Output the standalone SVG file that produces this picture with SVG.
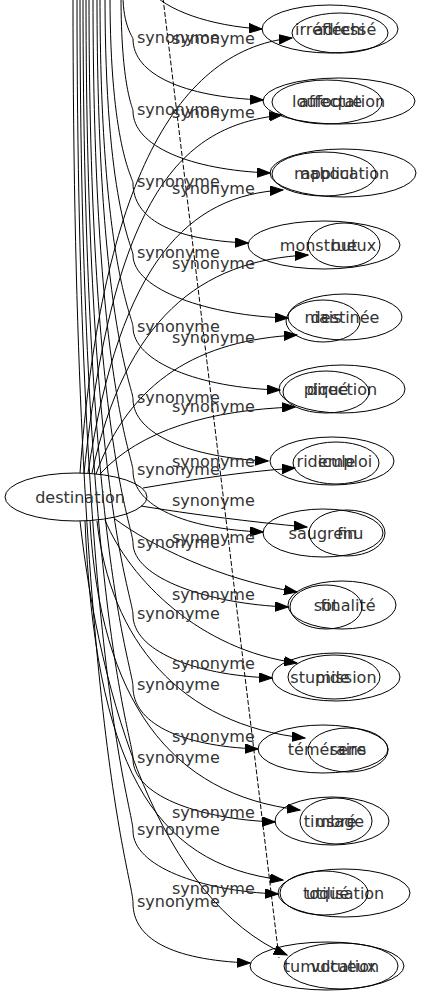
<svg xmlns="http://www.w3.org/2000/svg" width="422" height="995" viewBox="0 0 422 995">
<style>
text{font-family:"DejaVu Sans",sans-serif;font-size:16px;fill:#333}
.n ellipse{fill:none;stroke:#000;stroke-width:1}
.n text{text-anchor:middle}
.e path{fill:none;stroke:#000;stroke-width:1;marker-end:url(#ah)}
.e path.d{stroke-dasharray:5,2;marker-end:none}
</style>
<defs>
<marker id="ah" markerUnits="userSpaceOnUse" markerWidth="14" markerHeight="10" refX="13" refY="5" orient="auto">
<path d="M0,0.3 L13,5 L0,9.7 z" fill="#000" stroke="#000" stroke-width="1"/>
</marker>
</defs>
<rect width="422" height="995" fill="#fff"/>
<g class="e" id="connectors">
<!-- edges from the top bundle -->
<path d="M150,-10 C165,10 210,26 262,29"/>
<path d="M123,-5 C123,26 133,37 133,39 C133,74 183,97 263,100"/>
<path d="M121,-5 C121,88 133,107 133,111 C133,146 190,170 270,173"/>
<path d="M110,-5 C110,146 133,178 133,183 C133,218 170,240 248,243"/>
<path d="M105,-5 C105,203 133,247 133,255 C133,290 210,316 288,318"/>
<path d="M100,-5 C100,261 133,317 133,327 C133,362 200,388 280,390"/>
<path d="M97,-5 C97,318 133,387 133,399 C133,434 190,458 268,461"/>
<path d="M93,-5 C93,376 133,456 133,471 C133,506 185,529 263,532"/>
<path d="M89,-5 C89,434 133,526 133,543 C133,578 208,604 288,607"/>
<path d="M86,-5 C86,492 133,596 133,615 C133,650 192,675 272,678"/>
<path d="M83,-5 C83,549 133,666 133,687 C133,722 178,746 258,749"/>
<path d="M80,-5 C80,607 133,736 133,759 C133,794 195,819 275,822"/>
<path d="M77,-5 C77,664 133,806 133,831 C133,866 200,891 278,894"/>
<path d="M73,-5 C73,722 133,876 133,903 C133,938 170,960 250,963"/>
<!-- edges from destination -->
<path d="M80,473 C100,200 170,50 292,38"/>
<path d="M84,473 C115,180 190,125 282,115"/>
<path d="M88,473 C120,260 190,195 283,190"/>
<path d="M92,473 C125,320 200,260 308,255"/>
<path d="M96,474 C130,380 200,340 297,335"/>
<path d="M100,474 C140,430 210,410 295,407"/>
<path d="M143,488 C190,480 240,472 295,468"/>
<path d="M141,506 C190,514 250,522 307,527"/>
<path d="M115,519 C150,545 220,580 297,592"/>
<path d="M105,520 C130,580 200,650 297,663"/>
<path d="M97,521 C110,640 180,725 305,738"/>
<path d="M90,521 C100,700 170,795 300,810"/>
<path d="M85,521 C95,760 150,865 283,880"/>
<path d="M80,521 C100,700 160,900 287,955"/>
<path class="d" d="M163,-2 L279,958"/>
<!-- labels -->
<text x="137" y="43">synonyme</text>
<text x="137" y="115">synonyme</text>
<text x="137" y="187">synonyme</text>
<text x="137" y="258">synonyme</text>
<text x="137" y="332">synonyme</text>
<text x="137" y="403">synonyme</text>
<text x="137" y="475">synonyme</text>
<text x="137" y="548">synonyme</text>
<text x="137" y="619">synonyme</text>
<text x="137" y="690">synonyme</text>
<text x="137" y="763">synonyme</text>
<text x="137" y="835">synonyme</text>
<text x="137" y="907">synonyme</text>
<text x="172" y="44">synonyme</text>
<text x="172" y="118">synonyme</text>
<text x="172" y="194">synonyme</text>
<text x="172" y="269">synonyme</text>
<text x="172" y="343">synonyme</text>
<text x="172" y="412">synonyme</text>
<text x="172" y="467">synonyme</text>
<text x="172" y="506">synonyme</text>
<text x="172" y="543">synonyme</text>
<text x="172" y="600">synonyme</text>
<text x="172" y="669">synonyme</text>
<text x="172" y="742">synonyme</text>
<text x="172" y="818">synonyme</text>
<text x="172" y="894">synonyme</text>
</g>
<g class="n" id="destination"><ellipse cx="76" cy="497" rx="71" ry="24"/><text x="80" y="503">destination</text></g>
<g class="n" id="irreflechi"><ellipse cx="330" cy="29" rx="68" ry="24"/><text x="330" y="35">irréfléchi</text></g>
<g class="n" id="adresse"><ellipse cx="340" cy="33" rx="48" ry="20"/><text x="345" y="35">adressé</text></g>
<g class="n" id="affectation"><ellipse cx="339" cy="101" rx="76" ry="23"/><text x="342" y="107">affectation</text></g>
<g class="n" id="loufoque"><ellipse cx="327" cy="102" rx="55" ry="22"/><text x="327" y="107">loufoque</text></g>
<g class="n" id="application"><ellipse cx="343" cy="173" rx="73" ry="24"/><text x="345" y="179">application</text></g>
<g class="n" id="maboul"><ellipse cx="324" cy="174" rx="52" ry="22"/><text x="324" y="179">maboul</text></g>
<g class="n" id="monstrueux"><ellipse cx="324" cy="245" rx="76" ry="24"/><text x="328" y="251">monstrueux</text></g>
<g class="n" id="but"><ellipse cx="344" cy="245" rx="36" ry="22"/><text x="344" y="251">but</text></g>
<g class="n" id="destinee"><ellipse cx="345" cy="317" rx="57" ry="23"/><text x="345" y="323">destinée</text></g>
<g class="n" id="niais"><ellipse cx="323" cy="321" rx="37" ry="21"/><text x="323" y="323">niais</text></g>
<g class="n" id="direction"><ellipse cx="342" cy="389" rx="63" ry="24"/><text x="342" y="395">direction</text></g>
<g class="n" id="pique"><ellipse cx="326" cy="392" rx="43" ry="21"/><text x="326" y="395">piqué</text></g>
<g class="n" id="ridicule"><ellipse cx="332" cy="461" rx="62" ry="24"/><text x="326" y="467">ridicule</text></g>
<g class="n" id="emploi"><ellipse cx="336" cy="463" rx="43" ry="21"/><text x="345" y="467">emploi</text></g>
<g class="n" id="saugrenu"><ellipse cx="323" cy="533" rx="60" ry="24"/><text x="326" y="539">saugrenu</text></g>
<g class="n" id="fin"><ellipse cx="347" cy="533" rx="38" ry="23"/><text x="347" y="539">fin</text></g>
<g class="n" id="finalite"><ellipse cx="342" cy="605" rx="54" ry="24"/><text x="348" y="611">finalité</text></g>
<g class="n" id="sot"><ellipse cx="326" cy="607" rx="36" ry="22"/><text x="326" y="611">sot</text></g>
<g class="n" id="mission"><ellipse cx="336" cy="677" rx="64" ry="24"/><text x="346" y="683">mission</text></g>
<g class="n" id="stupide"><ellipse cx="334" cy="677" rx="46" ry="22"/><text x="320" y="683">stupide</text></g>
<g class="n" id="temeraire"><ellipse cx="323" cy="749" rx="65" ry="24"/><text x="327" y="755">téméraire</text></g>
<g class="n" id="sens"><ellipse cx="348" cy="750" rx="40" ry="22"/><text x="348" y="755">sens</text></g>
<g class="n" id="timbre"><ellipse cx="332" cy="821" rx="57" ry="24"/><text x="330" y="827">timbré</text></g>
<g class="n" id="usage"><ellipse cx="336" cy="821" rx="36" ry="23"/><text x="340" y="827">usage</text></g>
<g class="n" id="utilisation"><ellipse cx="344" cy="893" rx="66" ry="24"/><text x="345" y="899">utilisation</text></g>
<g class="n" id="toque"><ellipse cx="324" cy="893" rx="44" ry="22"/><text x="326" y="899">toqué</text></g>
<g class="n" id="tumultueux"><ellipse cx="327" cy="966" rx="77" ry="24"/><text x="330" y="972">tumultueux</text></g>
<g class="n" id="vocation"><ellipse cx="341" cy="966" rx="57" ry="23"/><text x="345" y="972">vocation</text></g>
</svg>
